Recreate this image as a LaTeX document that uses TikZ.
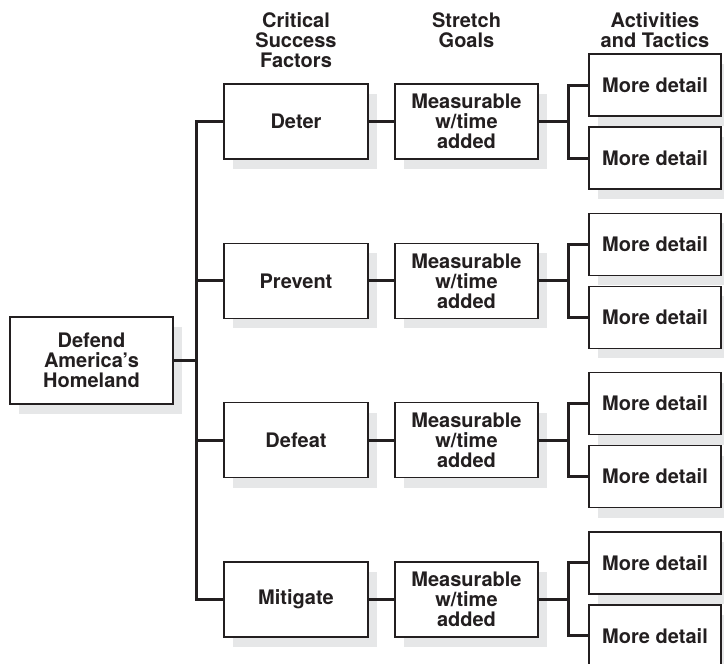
\documentclass[tikz,border=0pt]{standalone}
\usepackage{fontspec}
\setmainfont{TeX Gyre Heros}
\usetikzlibrary{shadows}
\definecolor{ink}{HTML}{231F20}
\definecolor{shade}{HTML}{E6E7E8}
\tikzset{
  box/.style={draw=ink, line width=1.6pt, fill=white, inner sep=0pt, align=center,
    font=\bfseries\fontsize{20}{20}\selectfont, text=ink,
    drop shadow={shadow xshift=9pt, shadow yshift=-10pt, fill=shade, opacity=1, draw=none}},
  rootbox/.style={box, minimum width=163pt, minimum height=87pt},
  csfbox/.style={box, minimum width=144pt, minimum height=75pt},
  goalbox/.style={box, minimum width=143pt, minimum height=75pt},
  detbox/.style={box, minimum width=132pt, minimum height=62pt},
  head/.style={align=center, font=\bfseries\fontsize{20}{20}\selectfont, text=ink, inner sep=0pt, anchor=north},
  link/.style={draw=ink, line width=3pt, line join=miter},
}
\begin{document}
\begin{tikzpicture}[x=1pt, y=-1pt]
\clip (0,0) rectangle (724,664);
\fill[white] (0,0) rectangle (724,664);
\node[head] (h1) at (296,12) {Critical\\Success\\Factors};
\node[head] (h2) at (466.5,12) {Stretch\\Goals};
\node[head] (h3) at (655,12) {Activities\\and Tactics};
\node[rootbox] (root) at (91.5,360.5) {Defend\\America's\\Homeland};
\foreach \i/\y/\t in {1/121.5/Deter, 2/280.8/Prevent, 3/440.1/Defeat, 4/599.4/Mitigate} {
  \node[csfbox] (c\i) at (296,\y) {\t};
  \node[goalbox] (g\i) at (466.5,\y) {Measurable\\w/time\\added};
  \node[detbox] (da\i) at (655,\y-36.5) {More detail};
  \node[detbox] (db\i) at (655,\y+36.5) {More detail};
  \coordinate (j\i) at (568,\y);
  \draw[link] (c\i) -- (g\i);
  \draw[link] (g\i) -- (j\i);
  \draw[link] (da\i.west) -| (j\i) |- (db\i.west);
}
\coordinate (tt) at (196,121.5);
\coordinate (tb) at (196,599.4);
\draw[link] (c1.west) -- (tt) -- (tb) -- (c4.west);
\draw[link] (c2.west) -- (c2.west -| tt);
\draw[link] (c3.west) -- (c3.west -| tt);
\draw[link] (root.east) -- (root.east -| tt);
\end{tikzpicture}
\end{document}
